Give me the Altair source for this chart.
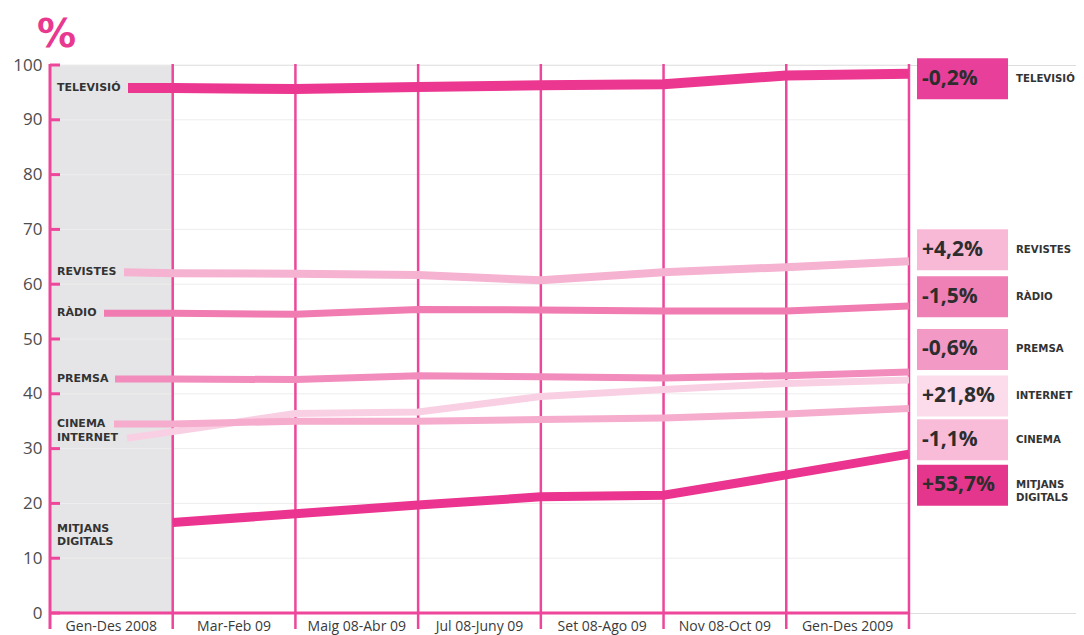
import altair as alt
import pandas as pd

# ---------------- data ----------------
categories = ["Gen-Des 2008", "Mar-Feb 09", "Maig 08-Abr 09", "Jul 08-Juny 09",
              "Set 08-Ago 09", "Nov 08-Oct 09", "Gen-Des 2009"]
series = ["TELEVISIÓ", "REVISTES", "RÀDIO", "PREMSA", "CINEMA", "INTERNET", "MITJANS DIGITALS"]

televisio = [95.8, 95.6, 96.0, 96.3, 96.5, 98.1, 98.4]
revistes = [62.0, 61.9, 61.7, 60.7, 62.2, 63.1, 64.2]
radio = [54.7, 54.5, 55.4, 55.3, 55.1, 55.1, 56.0]
premsa = [42.7, 42.6, 43.3, 43.1, 42.9, 43.3, 44.0]
cinema = [34.5, 35.0, 35.0, 35.3, 35.6, 36.3, 37.3]
internet = [33.1, 36.4, 36.7, 39.5, 40.8, 41.9, 42.5]
mitjans = [16.5, 18.1, 19.7, 21.2, 21.5, 25.2, 29.0]
values = [televisio, revistes, radio, premsa, cinema, internet, mitjans]

# value where each line starts, next to its label in the shaded column
lead_in = [95.8, 62.2, 54.7, 42.7, 34.5, 31.9, None]
changes = ["-0,2%", "+4,2%", "-1,5%", "-0,6%", "-1,1%", "+21,8%", "+53,7%"]
y_ticks = [0, 10, 20, 30, 40, 50, 60, 70, 80, 90, 100]

# ---------------- layout / style ----------------
W, H = 1026, 548
BW = 122.71                      # px per category band
XMAX = W / BW
PINK = "#ee469b"
line_colors = ["#ec3791", "#f5b2d1", "#f07cb1", "#f18cbc", "#f5accd", "#f9d0e3", "#ea348f"]
line_widths = [10, 8, 7, 7, 7, 7, 9]
box_colors = ["#e8409a", "#f7b9d6", "#ee80b5", "#f29ac5", "#f8bcd8", "#fcdcea", "#e5368e"]
lead_px = [128, 124, 104, 115, 114, 127, None]       # where lead-in segments start (px)
label_pos = [95.8, 62.2, 54.7, 42.7, 34.5, 31.9, 15.4]  # left label heights (% units)
box_pos = [97.5, 66.3, 57.7, 48.1, 31.6, 39.6, 23.3]    # right label box heights (% units)
BOX_HALF = 3.74

xs = alt.Scale(domain=[0, XMAX], nice=False, zero=False)
ys = alt.Scale(domain=[0, 100], nice=False, zero=False)
yaxis = alt.Axis(values=y_ticks, domain=False, ticks=False, grid=False, labelPadding=8,
                 labelFontSize=17, labelFont="Open Sans", labelColor="#4d4d4d", title=None)


def X(f):
    return alt.X(f, type="quantitative", scale=xs, axis=None)


def Y(f):
    return alt.Y(f, type="quantitative", scale=ys, axis=yaxis)


one = pd.DataFrame({"k": [0]})
layers = []

# shaded first column
band = pd.DataFrame({"a": [0], "b": [1]})
layers.append(alt.Chart(band).mark_rect(color="#e5e5e7").encode(
    x=X("a"), x2="b", y=alt.value(0), y2=alt.value(H)))

# grid lines
grid = pd.DataFrame({"v": y_ticks[1:]})
layers.append(alt.Chart(grid).mark_rule(color="#ededed", strokeWidth=1).encode(
    y=Y("v"), x=alt.value(0), x2=alt.value(7 * BW)))

# inward ticks
tk = pd.DataFrame({"v": y_ticks})
layers.append(alt.Chart(tk).mark_rule(color=PINK, strokeWidth=3).encode(
    y=Y("v"), x=alt.value(0), x2=alt.value(10)))

# vertical separators
vb = pd.DataFrame({"b": list(range(1, len(categories) + 1))})
layers.append(alt.Chart(vb).mark_rule(color=PINK, strokeWidth=2.5).encode(
    x=X("b"), y=alt.value(-1), y2=alt.value(H + 16)))

# left axis line and bottom axis line
layers.append(alt.Chart(one).mark_rule(color=PINK, strokeWidth=3).encode(
    x=alt.value(0), y=alt.value(-1), y2=alt.value(H + 16)))
layers.append(alt.Chart(one).mark_rule(color=PINK, strokeWidth=3).encode(
    y=alt.value(H), x=alt.value(0), x2=alt.value(7 * BW)))

# series lines (light first, strong last)
order = [5, 4, 3, 2, 1, 6, 0]
for i in order:
    rows = []
    if lead_in[i] is not None:
        rows.append({"x": (lead_px[i] - 50) / BW, "v": lead_in[i]})
    for j, val in enumerate(values[i]):
        rows.append({"x": j + 1, "v": val})
    df = pd.DataFrame(rows)
    layers.append(alt.Chart(df).mark_line(color=line_colors[i], strokeWidth=line_widths[i],
                                          strokeCap="butt", strokeJoin="miter").encode(
        x=X("x"), y=Y("v"), order="x:Q"))

# left labels
ll = pd.DataFrame({"t": [s.replace(" ", "\n") for s in series], "v": label_pos})
layers.append(alt.Chart(ll).mark_text(align="left", baseline="middle", font="DejaVu Sans",
                                      fontWeight="bold", fontSize=11, color="#333333",
                                      lineBreak="\n", lineHeight=13.5).encode(
    x=alt.value(7), y=Y("v"), text="t:N"))

# right boxes
bx = pd.DataFrame({"s": series, "c": changes, "v": box_pos, "col": box_colors,
                   "t": [s.replace(" ", "\n") for s in series]})
bx["lo"] = bx["v"] - BOX_HALF
bx["hi"] = bx["v"] + BOX_HALF
layers.append(alt.Chart(bx).mark_rect().encode(
    x=alt.value(917 - 50), x2=alt.value(1008 - 50), y=Y("lo"), y2="hi",
    color=alt.Color("col:N", scale=None)))
layers.append(alt.Chart(bx).mark_text(align="left", baseline="middle", font="Open Sans",
                                      fontWeight="bold", fontSize=21, color="#2d2d2d").encode(
    x=alt.value(922 - 50), y=Y("v"), text="c:N"))
layers.append(alt.Chart(bx).mark_text(align="left", baseline="middle", font="DejaVu Sans",
                                      fontWeight="bold", fontSize=10.2, color="#333333",
                                      lineBreak="\n", lineHeight=13).encode(
    x=alt.value(1016 - 50), y=Y("v"), text="t:N"))

# x labels
xl = pd.DataFrame({"t": categories, "x": [i + 0.5 for i in range(len(categories))]})
layers.append(alt.Chart(xl).mark_text(align="center", baseline="alphabetic", font="Open Sans",
                                      fontSize=14, color="#3a3a3a").encode(
    x=X("x"), y=alt.value(H + 18), text="t:N"))

# "%" heading
pc = pd.DataFrame({"t": ["%"]})
layers.append(alt.Chart(pc).mark_text(align="left", baseline="alphabetic", font="DejaVu Sans",
                                      fontWeight="bold", fontSize=39, color="#e8388f").encode(
    x=alt.value(37 - 50), y=alt.value(47 - 65), text="t:N"))

chart = alt.layer(*layers).properties(
    width=W, height=H,
    autosize=alt.AutoSizeParams(type="none"),
    padding={"left": 42, "top": 57, "right": 0, "bottom": 22},
).configure_view(stroke=None).configure(background="white")

chart.save("out.html", embed_options={"renderer": "svg", "actions": False})
